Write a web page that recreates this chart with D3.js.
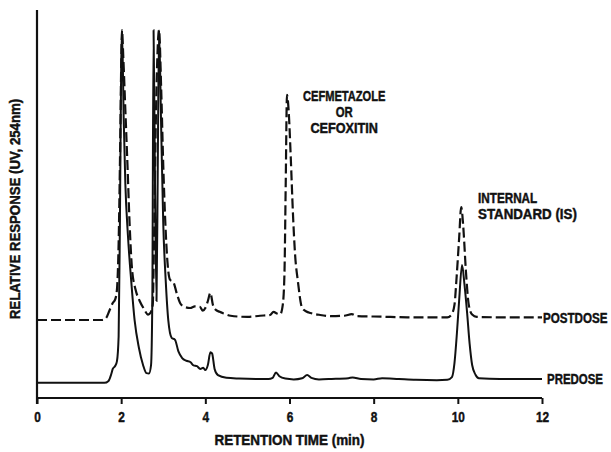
<!DOCTYPE html>
<html>
<head>
<meta charset="utf-8">
<script src="https://cdn.jsdelivr.net/npm/d3@7"></script>
<style>
  body { margin: 0; background: #fff; }
  svg text { font-family: "Liberation Sans", Arial, sans-serif; font-weight: bold; fill: #111; stroke: #111; stroke-width: 0.45px; }
</style>
</head>
<body>
<div id="chart"></div>
<script>
// retention time (min) and relative response
const predoseTime = [0, 1.6, 1.7, 1.76, 1.8, 1.86, 1.9, 1.94, 1.97, 2.0, 2.02, 2.06, 2.1, 2.16, 2.24, 2.32, 2.42, 2.52, 2.6, 2.66, 2.71, 2.74, 2.77, 2.8, 2.84, 2.87, 2.9, 2.95, 3.0, 3.06, 3.12, 3.2, 3.28, 3.36, 3.45, 3.55, 3.65, 3.72, 3.8, 3.88, 3.95, 4.0, 4.06, 4.12, 4.16, 4.22, 4.3, 4.5, 4.8, 5.2, 5.5, 5.6, 5.68, 5.76, 5.9, 6.1, 6.3, 6.42, 6.52, 6.7, 7.0, 7.4, 7.5, 7.7, 8.0, 8.2, 8.6, 9.0, 9.5, 9.75, 9.86, 9.92, 9.98, 10.03, 10.1, 10.16, 10.22, 10.28, 10.34, 10.42, 10.5, 11, 12];
const predoseResp = [3.9, 3.9, 4.4, 6.0, 7.5, 8.3, 9.5, 16, 45, 85, 94.8, 72, 55, 42, 30, 20, 13, 8.5, 6.4, 6.3, 8.5, 25, 94.8, 60, 25, 60, 94.8, 70, 45, 30, 20, 15.5, 15, 12, 10.3, 9.6, 9.2, 8.4, 8.2, 7.5, 7.8, 7.2, 8.5, 11.8, 11.5, 7.5, 5.9, 5.2, 5.0, 4.9, 4.9, 5.2, 6.6, 5.6, 5.0, 4.8, 5.1, 5.9, 5.2, 4.8, 4.9, 5.1, 5.3, 4.9, 4.8, 5.1, 4.9, 4.7, 4.6, 4.7, 5.4, 9, 17, 25, 34.3, 29, 22, 14, 8.5, 6.0, 5.1, 4.9, 4.9];

const postdoseTime = [0, 1.55, 1.64, 1.72, 1.8, 1.86, 1.9, 1.94, 1.97, 2.0, 2.02, 2.05, 2.1, 2.15, 2.2, 2.26, 2.34, 2.44, 2.54, 2.64, 2.7, 2.75, 2.78, 2.83, 2.9, 2.95, 3.0, 3.05, 3.1, 3.16, 3.24, 3.32, 3.4, 3.5, 3.64, 3.75, 3.87, 3.94, 4.0, 4.06, 4.12, 4.18, 4.24, 4.34, 4.43, 4.6, 5.0, 5.3, 5.54, 5.62, 5.7, 5.78, 5.84, 5.88, 5.91, 5.94, 5.98, 6.03, 6.08, 6.13, 6.2, 6.3, 6.4, 6.5, 6.73, 7.0, 7.3, 7.48, 7.6, 8.0, 8.4, 8.8, 9.3, 9.75, 9.85, 9.92, 9.97, 10.03, 10.08, 10.13, 10.19, 10.26, 10.34, 10.45, 11, 12];
const postdoseResp = [20.1, 20.1, 20.6, 22.5, 24.5, 25.5, 28, 40, 60, 85, 94.8, 88, 74, 60, 45, 33, 28, 25, 23, 21.5, 22, 24, 40, 75, 94.8, 80, 60, 45, 35, 30.5, 29.9, 27, 24.5, 23.5, 23.2, 23.6, 23.5, 22.5, 23.2, 25, 27.1, 24, 22.8, 22.2, 21.8, 21.2, 20.9, 21.2, 21.4, 22.2, 21.8, 21.6, 24, 32, 55, 78.1, 74, 62, 48, 37.4, 30, 23.2, 22.3, 21.9, 21.4, 21.1, 21.2, 21.6, 21.1, 21.0, 20.9, 20.8, 20.8, 20.8, 21.5, 24, 31, 41, 49.2, 44, 33, 24, 21.5, 20.9, 20.8, 20.8];

const xTicks = [0, 2, 4, 6, 8, 10, 12];

const W = 611, H = 452;
const margin = { top: 10, right: 69, bottom: 54, left: 37 };

const svg = d3.select('#chart').append('svg')
  .attr('width', W)
  .attr('height', H);

const x = d3.scaleLinear().domain([0, 12]).range([margin.left, W - margin.right]);
const y = d3.scaleLinear().domain([0, 100]).range([H - margin.bottom, margin.top]);

// the original lettering is a condensed bold face, squeeze it to width
const squeeze = (sel, perChar) =>
  sel.attr('lengthAdjust', 'spacingAndGlyphs')
    .attr('textLength', function () { return this.textContent.length * perChar; });

// axes
const xAxis = svg.append('g')
  .attr('transform', `translate(0,${y(0)})`)
  .call(d3.axisBottom(x).tickValues(xTicks).tickSize(6).tickPadding(8).tickFormat(d3.format('d')));
xAxis.select('.domain').attr('stroke', '#111').attr('stroke-width', 2.2).attr('d', `M${x(0)},0H${x(12)}`);
xAxis.selectAll('.tick line').attr('stroke', '#111').attr('stroke-width', 2);
xAxis.selectAll('.tick text')
  .attr('font-size', 14.5).attr('font-family', null)
  .call(squeeze, 6.6);

svg.append('line')
  .attr('x1', x(0)).attr('x2', x(0))
  .attr('y1', y(100)).attr('y2', y(0) + 6)
  .attr('stroke', '#111').attr('stroke-width', 2.2);

// traces
const line = d3.line()
  .x((d) => x(d[0]))
  .y((d) => y(d[1]))
  .curve(d3.curveMonotoneX);

svg.append('path')
  .datum(predoseTime.map((t, i) => [t, predoseResp[i]]))
  .attr('fill', 'none')
  .attr('stroke', '#111')
  .attr('stroke-width', 2)
  .attr('d', line);

svg.append('path')
  .datum(postdoseTime.map((t, i) => [t, postdoseResp[i]]))
  .attr('fill', 'none')
  .attr('stroke', '#111')
  .attr('stroke-width', 2.2)
  .attr('stroke-dasharray', '10,4')
  .attr('d', line);

// trace names at the right end, narrowed with a transform
svg.append('text')
  .attr('transform', `translate(${x(12) + 1},${y(postdoseResp[postdoseResp.length - 1])}) scale(0.8,1)`)
  .attr('dy', '0.36em').attr('font-size', 14.5)
  .text('POSTDOSE');

svg.append('text')
  .attr('transform', `translate(${x(12) + 5},${y(predoseResp[predoseResp.length - 1])}) scale(0.79,1)`)
  .attr('dy', '0.36em').attr('font-size', 14.5)
  .text('PREDOSE');

['CEFMETAZOLE', 'OR', 'CEFOXITIN'].forEach((s, i) => {
  svg.append('text')
    .attr('x', x(7.3)).attr('y', 101 + i * 16)
    .attr('text-anchor', 'middle').attr('font-size', 14)
    .text(s)
    .call(squeeze, i === 1 ? 8.5 : 7.5);
});

['INTERNAL', 'STANDARD (IS)'].forEach((s, i) => {
  svg.append('text')
    .attr('x', x(10.48)).attr('y', 203 + i * 16)
    .attr('font-size', 14)
    .text(s)
    .call(squeeze, i === 0 ? 7.4 : 7.6);
});

svg.append('text')
  .attr('x', x(6)).attr('y', 445)
  .attr('text-anchor', 'middle').attr('font-size', 14)
  .text('RETENTION TIME (min)')
  .call(squeeze, 7.5);

svg.append('text')
  .attr('transform', `translate(20,${(y(0) + y(100)) / 2 + 5}) rotate(-90)`)
  .attr('text-anchor', 'middle').attr('font-size', 14)
  .text('RELATIVE RESPONSE (UV, 254nm)')
  .call(squeeze, 7.6);
</script>
</body>
</html>
